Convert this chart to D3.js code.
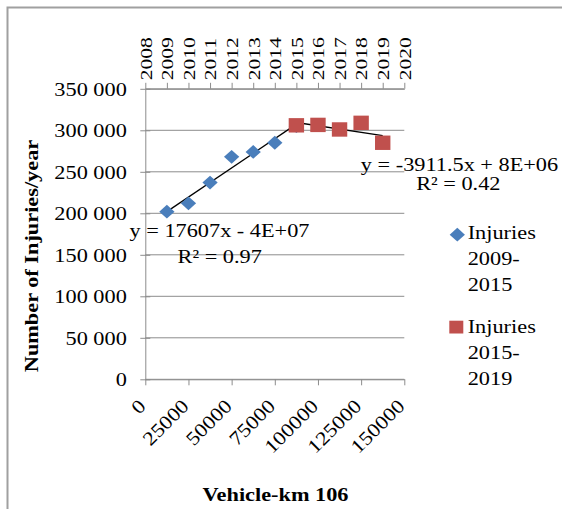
<!DOCTYPE html>
<html>
<head>
<meta charset="utf-8">
<script src="https://cdn.jsdelivr.net/npm/d3@7"></script>
<style>
  body { margin: 0; background: #fff; }
  svg { display: block; }
  text { font-family: "Liberation Serif", "Times New Roman", serif; fill: #000; }
</style>
</head>
<body>
<div id="chart"></div>
<script>
// data
var years1 = [2009, 2010, 2011, 2012, 2013, 2014, 2015];
var injuries1 = [202000, 212000, 237000, 268000, 274000, 285000, 305000];
var years2 = [2015, 2016, 2017, 2018, 2019];
var injuries2 = [306000, 306500, 301000, 309000, 285000];
var kmTicks = [0, 25000, 50000, 75000, 100000, 125000, 150000];
var yearTicks = [2008, 2009, 2010, 2011, 2012, 2013, 2014, 2015, 2016, 2017, 2018, 2019, 2020];
var seriesNames = [["Injuries", "2009-", "2015"], ["Injuries", "2015-", "2019"]];
var trendLabels = [["y = 17607x - 4E+07", "R\u00b2 = 0.97"], ["y = -3911.5x + 8E+06", "R\u00b2 = 0.42"]];

var width = 562,
    height = 509;

var plot = {left: 145.3, right: 404.3, top: 88.8, bottom: 379.3};
var SX = 1.15;        // glyphs in the picture are wider than Times
var FS = 19.4;
var GRID = "#8c8c8c";
var BLUE = "#4a7ebb", RED = "#c0504d";

var xScale = d3.scaleLinear().domain([0, 150000]).range([plot.left, plot.right]);
var yearScale = d3.scaleLinear().domain([2008, 2020]).range([plot.left, plot.right]);
var yScale = d3.scaleLinear().domain([0, 350000]).range([plot.bottom, plot.top]);

var spaceFormat = d3.formatLocale({decimal: ".", thousands: " ", grouping: [3], currency: ["", ""]}).format(",");

var svg = d3.select("#chart").append("svg")
    .attr("width", width)
    .attr("height", height);

// frame
svg.append("path")
    .attr("d", "M7.5," + height + "V7.5H" + width)
    .attr("fill", "none")
    .attr("stroke", "#a0a0a0")
    .attr("stroke-width", 2);

// gridlines
svg.append("g").selectAll("line")
    .data(yScale.ticks(7))
    .enter().append("line")
    .attr("x1", plot.left).attr("x2", plot.right)
    .attr("y1", function(d) { return yScale(d); })
    .attr("y2", function(d) { return yScale(d); })
    .attr("stroke", GRID);

function styleAxis(g) {
    g.selectAll("path, line").attr("stroke", GRID);
    g.selectAll("text").attr("fill", "#000");
}

// y axis
var yAxis = svg.append("g")
    .attr("transform", "translate(" + plot.left + ",0)")
    .call(d3.axisLeft(yScale).ticks(7).tickSize(5).tickSizeOuter(0).tickFormat(spaceFormat))
    .call(styleAxis);
yAxis.selectAll(".tick line").attr("x1", 5);
yAxis.selectAll(".tick text")
    .attr("x", null).attr("dy", null)
    .attr("font-size", FS)
    .attr("font-family", "Liberation Serif")
    .attr("transform", "translate(-18.5,6.6) scale(" + SX + ",1)");

// bottom axis
var xAxis = svg.append("g")
    .attr("transform", "translate(0," + plot.bottom + ")")
    .call(d3.axisBottom(xScale).tickValues(kmTicks).tickSize(6).tickSizeOuter(0).tickFormat(d3.format("d")))
    .call(styleAxis);
xAxis.selectAll(".tick text")
    .attr("y", null).attr("dy", null)
    .attr("font-size", FS)
    .attr("font-family", "Liberation Serif")
    .attr("text-anchor", "end")
    .attr("transform", "translate(1,28) rotate(-45) scale(" + SX + ",1)");

// top axis (years)
var topAxis = svg.append("g")
    .attr("transform", "translate(0," + plot.top + ")")
    .call(d3.axisTop(yearScale).tickValues(yearTicks).tickSize(6).tickSizeOuter(0).tickFormat(d3.format("d")))
    .call(styleAxis);
topAxis.selectAll(".tick text")
    .attr("y", null).attr("dy", null)
    .attr("font-size", 16)
    .attr("font-family", "Liberation Sans, Arial, sans-serif")
    .attr("fill", "#1a1a1a")
    .attr("text-anchor", "start")
    .attr("transform", "translate(5.8,-8.5) rotate(-90) scale(1.35,1)");

// trendlines (least squares from the series)
function fit(xs, ys) {
    var mx = d3.mean(xs), my = d3.mean(ys);
    var b = d3.sum(xs, function(x, i) { return (x - mx) * (ys[i] - my); }) /
            d3.sum(xs, function(x) { return (x - mx) * (x - mx); });
    return function(x) { return my + b * (x - mx); };
}

[[years1, injuries1], [years2, injuries2]].forEach(function(s) {
    var f = fit(s[0], s[1]);
    var ends = d3.extent(s[0]);
    svg.append("line")
        .attr("x1", yearScale(ends[0])).attr("y1", yScale(f(ends[0])))
        .attr("x2", yearScale(ends[1])).attr("y2", yScale(f(ends[1])))
        .attr("stroke", "#000")
        .attr("stroke-width", 1.3);
});

// points
var diamond = d3.symbol().type(d3.symbolDiamond2).size(135);

svg.append("g").selectAll("path")
    .data(years1)
    .enter().append("path")
    .attr("d", diamond)
    .attr("transform", function(d, i) { return "translate(" + yearScale(d) + "," + yScale(injuries1[i]) + ") scale(1.05,0.95)"; })
    .attr("fill", BLUE);

svg.append("g").selectAll("rect")
    .data(years2)
    .enter().append("rect")
    .attr("x", function(d) { return yearScale(d) - 7.7; })
    .attr("y", function(d, i) { return yScale(injuries2[i]) - 7.2; })
    .attr("width", 15.4)
    .attr("height", 14.4)
    .attr("fill", RED);

// trendline labels
function label(txt, x, y) {
    svg.append("text")
        .attr("text-anchor", "middle")
        .attr("font-size", FS)
        .attr("transform", "translate(" + x + "," + y + ") scale(" + SX + ",1)")
        .text(txt);
}
label(trendLabels[0][0], 219.5, 237);
label(trendLabels[0][1], 219.7, 263);
label(trendLabels[1][0], 459.5, 170.5);
label(trendLabels[1][1], 458.3, 190);

// legend
var legend = svg.append("g");
var legendTop = [239.3, 333.3];
seriesNames.forEach(function(lines, i) {
    if (i === 0) {
        legend.append("path")
            .attr("d", diamond)
            .attr("transform", "translate(457.3," + (legendTop[i] - 4.6) + ") scale(1.05,0.95)")
            .attr("fill", BLUE);
    } else {
        legend.append("rect")
            .attr("x", 449.3).attr("y", legendTop[i] - 12.6)
            .attr("width", 14).attr("height", 12.8)
            .attr("fill", RED);
    }
    lines.forEach(function(t, j) {
        legend.append("text")
            .attr("font-size", FS)
            .attr("transform", "translate(467.7," + (legendTop[i] + j * 25.8) + ") scale(" + SX + ",1)")
            .text(t);
    });
});

// axis titles
svg.append("text")
    .attr("text-anchor", "middle")
    .attr("font-size", FS)
    .attr("font-weight", "bold")
    .attr("transform", "translate(37.5,256) rotate(-90) scale(" + SX + ",1)")
    .text("Number of Injuries/year");

svg.append("text")
    .attr("text-anchor", "middle")
    .attr("font-size", FS)
    .attr("font-weight", "bold")
    .attr("transform", "translate(275.5,500.7) scale(" + SX + ",1)")
    .text("Vehicle-km 106");
</script>
</body>
</html>
